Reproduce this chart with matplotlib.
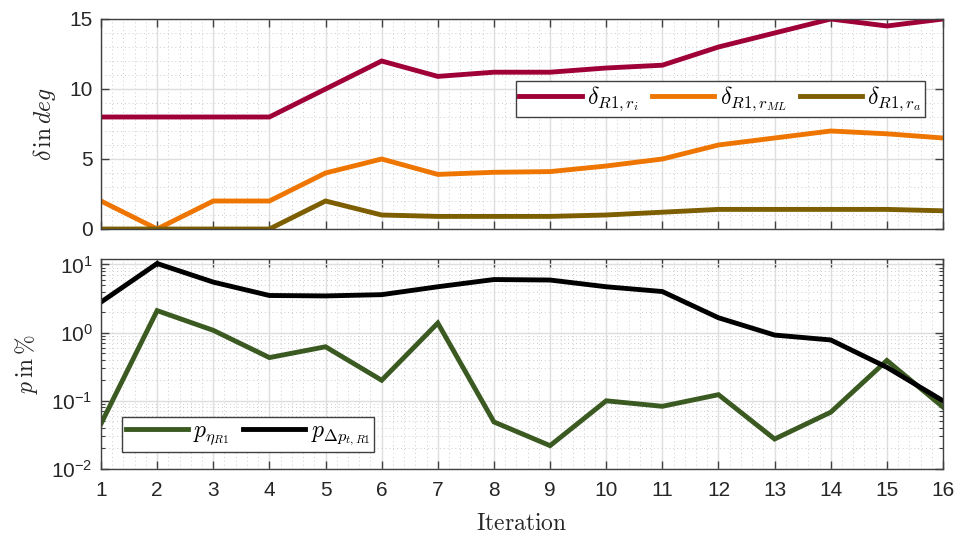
import numpy as np
import matplotlib
matplotlib.use("Agg")
import matplotlib.pyplot as plt
from matplotlib.ticker import MultipleLocator, LogLocator, NullFormatter
from matplotlib.font_manager import FontProperties

plt.rcParams.update({
    "font.family": ["Liberation Sans", "DejaVu Sans"],
    "mathtext.fontset": "custom",
    "mathtext.rm": "Liberation Sans",
    "mathtext.it": "Liberation Sans:italic",
    "mathtext.bf": "Liberation Sans:bold",
    "axes.unicode_minus": False,
})

iterations = np.arange(1, 17)

delta_ri = [8, 8, 8, 8, 10, 12, 10.9, 11.2, 11.2, 11.5, 11.7, 13, 14, 15, 14.5, 15]
delta_rml = [2, 0, 2, 2, 4, 5, 3.9, 4.05, 4.1, 4.5, 5, 6, 6.5, 7, 6.8, 6.5]
delta_ra = [0, 0, 0, 0, 2, 1, 0.9, 0.9, 0.9, 1.0, 1.2, 1.4, 1.4, 1.4, 1.4, 1.3]

p_eta = [0.046, 2.1, 1.08, 0.43, 0.62, 0.20, 1.38, 0.049, 0.022, 0.10, 0.083,
         0.123, 0.0275, 0.068, 0.39, 0.081]
p_dpt = [2.8, 10.3, 5.5, 3.5, 3.45, 3.6, 4.7, 6.0, 5.9, 4.7, 4.0, 1.65, 0.92,
         0.78, 0.31, 0.10]

c_ri = "#A00038"
c_rml = "#EE7600"
c_ra = "#7D5E00"
c_eta = "#3B5A22"
c_dpt = "#000000"

axis_col = "#404040"
text_col = "#262626"
lw = 3.5

W, H = 963, 539
fig = plt.figure(figsize=(W / 100, H / 100), dpi=100)
left = 101 / W
width = (943 - 101) / W
ax1 = fig.add_axes([left, (H - 229) / H, width, 210 / H])
ax2 = fig.add_axes([left, (H - 469) / H, width, 210 / H])

cm_prop = FontProperties(size=17, math_fontfamily="cm")
leg_kw = dict(prop=cm_prop, frameon=True, fancybox=False, borderaxespad=0,
              handlelength=2.65, handletextpad=0.22, columnspacing=0.55,
              borderpad=0.15)


def style_axes(ax):
    for s in ax.spines.values():
        s.set_color(axis_col)
        s.set_linewidth(1.0)
    ax.tick_params(which="both", direction="in", top=True, right=True,
                   colors=axis_col, labelcolor=text_col, labelsize=15)
    ax.tick_params(which="major", length=6, width=1.0)
    ax.tick_params(axis="x", which="major", pad=9)
    ax.tick_params(axis="y", which="major", pad=6)
    ax.grid(which="major", color="#dedede", linewidth=1.0, linestyle="-")
    ax.grid(which="minor", color="#cccccc", linewidth=0.7, linestyle=(0, (1, 3)))
    ax.set_axisbelow(True)
    ax.set_xlim(1, 16)
    ax.xaxis.set_major_locator(MultipleLocator(1))
    ax.xaxis.set_minor_locator(MultipleLocator(0.2))
    ax.tick_params(axis="x", which="minor", length=0)


def style_legend(leg):
    frame = leg.get_frame()
    frame.set_edgecolor(axis_col)
    frame.set_linewidth(1.0)
    frame.set_alpha(1)


# Upper panel: angle deviations
ax1.plot(iterations, delta_ri, color=c_ri, lw=lw, label=r"$\delta_{R1,r_i}$",
         solid_joinstyle="miter")
ax1.plot(iterations, delta_rml, color=c_rml, lw=lw, label=r"$\delta_{R1,r_{ML}}$",
         solid_joinstyle="miter")
ax1.plot(iterations, delta_ra, color=c_ra, lw=lw, label=r"$\delta_{R1,r_a}$",
         solid_joinstyle="miter")
style_axes(ax1)
ax1.set_ylim(0, 15)
ax1.yaxis.set_major_locator(MultipleLocator(5))
ax1.yaxis.set_minor_locator(MultipleLocator(1))
ax1.tick_params(axis="y", which="minor", length=0)
ax1.set_xticklabels([])
ax1.set_ylabel(r"$\delta\,\mathrm{in}\,deg$", fontsize=17, color=text_col,
               math_fontfamily="cm", labelpad=8)
leg1 = ax1.legend(loc="upper right", bbox_to_anchor=(0.9786, 0.705), ncol=3,
                  **leg_kw)
style_legend(leg1)

# Lower panel: relative deviations on a log scale
ax2.plot(iterations, p_eta, color=c_eta, lw=lw, label=r"$p_{\eta_{R1}}$",
         solid_joinstyle="miter")
ax2.plot(iterations, p_dpt, color=c_dpt, lw=lw, label=r"$p_{\Delta p_{t,R1}}$",
         solid_joinstyle="miter")
ax2.set_yscale("log")
style_axes(ax2)
ax2.set_ylim(0.01, 12)
ax2.yaxis.set_major_locator(LogLocator(base=10, numticks=10))
ax2.yaxis.set_minor_locator(LogLocator(base=10, subs=np.arange(2, 10), numticks=20))
ax2.yaxis.set_minor_formatter(NullFormatter())
ax2.tick_params(axis="y", which="minor", length=3, width=0.8)
ax2.set_ylabel(r"$p\,\mathrm{in}\,\%$", fontsize=17, color=text_col,
               math_fontfamily="cm", labelpad=8)
ax2.set_xlabel(r"$\mathrm{Iteration}$", fontsize=17, color=text_col,
               math_fontfamily="cm", labelpad=9)
leg2 = ax2.legend(loc="lower left", bbox_to_anchor=(0.025, 0.081), ncol=2,
                  **leg_kw)
style_legend(leg2)

fig.savefig("out.png", dpi=100, facecolor="white")
